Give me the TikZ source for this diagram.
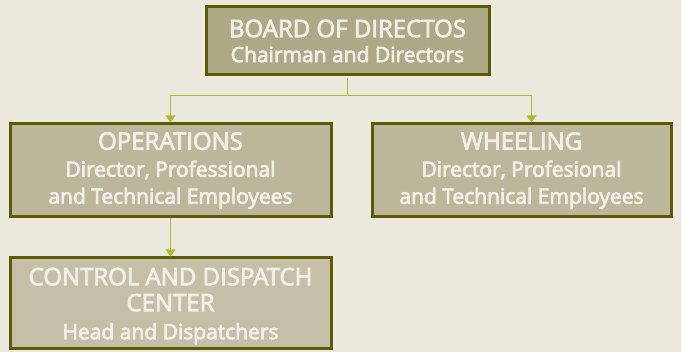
\documentclass[tikz,border=0pt]{standalone}
\usepackage{fontspec}
\setmainfont{Open Sans}
\newfontfamily\medf{Open Sans}[FakeBold=3.5]
\usetikzlibrary{arrows.meta}
\definecolor{bg}{HTML}{ECE9DF}
\definecolor{edge}{HTML}{5E5A04}
\definecolor{fillA}{HTML}{ADA886}
\definecolor{fillB}{HTML}{BCB79B}
\definecolor{fillC}{HTML}{C4BFA7}
\definecolor{wire}{HTML}{B2B92E}
\definecolor{txt}{HTML}{F2EFE8}
\newcommand{\capf}{\fontsize{24}{25}\selectfont}
\newcommand{\subf}{\medf\fontsize{21}{27}\selectfont}
\begin{document}
\begin{tikzpicture}[x=1pt,y=-1pt,
  box/.style={draw=edge, line width=3pt, text=txt, align=center, inner sep=0pt, font=\subf},
  link/.style={draw=wire, line width=1.2pt, -{Triangle[width=10pt,length=7pt]}}]
\fill[bg] (0,0) rectangle (681,352);
\useasboundingbox (0,0) rectangle (681,352);
\node[box, fill=fillA, minimum width=283pt, minimum height=68pt] (board) at (347.5,41)
  {{\capf BOARD OF DIRECTOS}\\[-2pt] Chairman and Directors};
\node[box, fill=fillB, minimum width=321pt, minimum height=93pt] (ops) at (170.5,170.5)
  {{\capf OPERATIONS}\\ Director, Professional\\ and Technical Employees};
\node[box, fill=fillB, minimum width=299pt, minimum height=93pt] (wheel) at (521.5,170.5)
  {{\capf WHEELING}\\ Director, Profesional\\ and Technical Employees};
\node[box, fill=fillC, minimum width=321pt, minimum height=91pt, text depth=0pt] (ctrl) at (170.5,303.5)
  {{\capf CONTROL AND DISPATCH}\\[-1pt] {\capf CENTER}\\[1pt] Head and Dispatchers};
\coordinate (j) at ([yshift=-19pt]board.south);
\draw[draw=wire, line width=1.2pt] ([yshift=-1.5pt]board.south) -- (j);
\draw[link] (j) -| (ops.north);
\draw[link] (j) -| ([xshift=10pt]wheel.north);
\draw[link] (ops.south) -- (ctrl.north);
\end{tikzpicture}
\end{document}
